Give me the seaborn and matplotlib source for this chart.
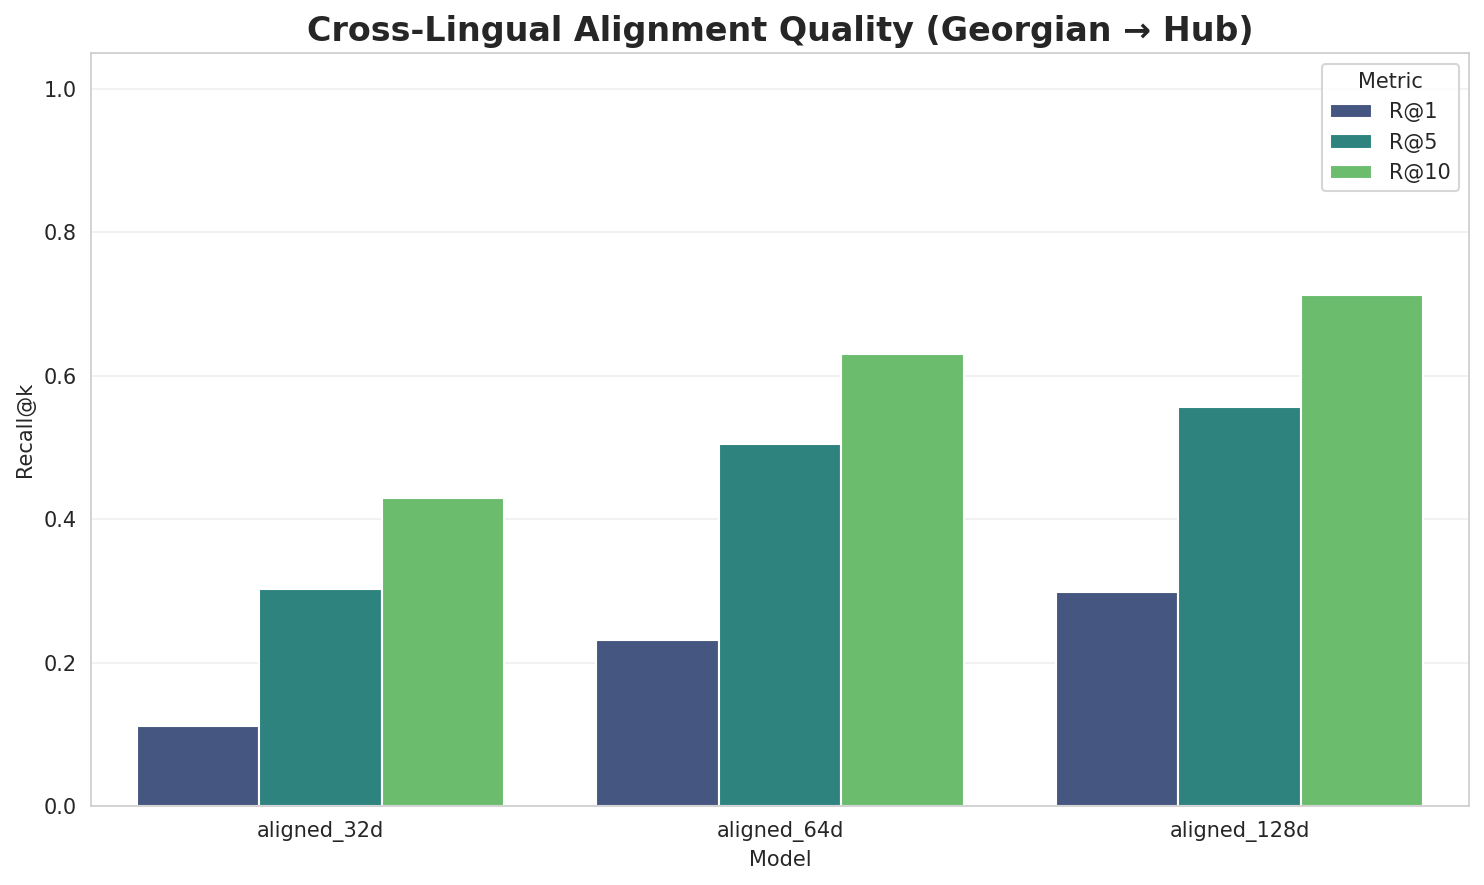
import pandas as pd
import matplotlib.pyplot as plt
import seaborn as sns

# Recall values
models = ["aligned_32d", "aligned_64d", "aligned_128d"]
metrics = ["R@1", "R@5", "R@10"]
r_at_1 = [0.111, 0.231, 0.299]
r_at_5 = [0.303, 0.505, 0.556]
r_at_10 = [0.430, 0.630, 0.712]

rows = []
for m, a, b, c in zip(models, r_at_1, r_at_5, r_at_10):
    rows.append({"Model": m, "Metric": "R@1", "Recall@k": a})
    rows.append({"Model": m, "Metric": "R@5", "Recall@k": b})
    rows.append({"Model": m, "Metric": "R@10", "Recall@k": c})
df = pd.DataFrame(rows)

sns.set_style("whitegrid")

fig, ax = plt.subplots(figsize=(1484 / 150, 885 / 150), dpi=150)
sns.barplot(data=df, x="Model", y="Recall@k", hue="Metric", hue_order=metrics,
            palette="viridis", edgecolor="white", linewidth=1, ax=ax)

ax.set_ylim(0, 1.05)
ax.grid(axis="y", alpha=0.3)
ax.set_title("Cross-Lingual Alignment Quality (Georgian \u2192 Hub)",
             fontsize=16, fontweight="bold")
ax.set_xlabel("Model")
ax.set_ylabel("Recall@k")
ax.legend(title="Metric", loc="upper right")

plt.subplots_adjust(left=0.0613, right=0.990, top=0.940, bottom=0.0893)
plt.savefig("out.png", dpi=150)
